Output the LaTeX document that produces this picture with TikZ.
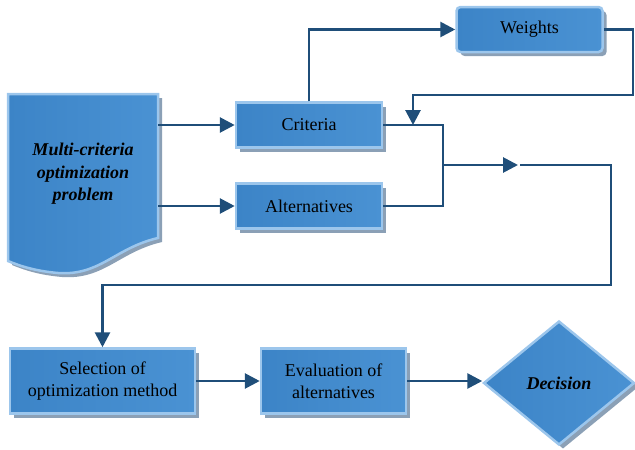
\documentclass[tikz,border=0pt]{standalone}
\usepackage{fontspec}
\setmainfont{Liberation Serif}
\usetikzlibrary{arrows.meta,shapes.geometric,shadows}
\definecolor{lineblue}{HTML}{1F4E79}
\definecolor{boxA}{HTML}{3C84C7}
\definecolor{boxB}{HTML}{62A6E1}
\definecolor{boxC}{HTML}{4A92D3}
\definecolor{edgeblue}{HTML}{9CC6EC}
\definecolor{shadowc}{HTML}{8BA0B6}
\begin{document}
\begin{tikzpicture}[x=1pt,y=-1pt,
  every node/.style={font=\fontsize{18}{22}\selectfont},
  fillgrad/.style={left color=boxA, middle color=boxB, right color=boxC},
  box/.style={rectangle, draw=edgeblue, line width=2.5pt, fillgrad,
    align=center, inner sep=0pt,
    drop shadow={shadow xshift=4pt, shadow yshift=-4pt, fill=shadowc, opacity=1}},
  conn/.style={draw=lineblue, line width=2.8pt},
  arr/.style={conn, -{Triangle[length=15pt,width=15pt]}}]
\useasboundingbox (0,0) rectangle (635,450);

% document shape
\begin{scope}[shift={(4,4)}]
\fill[shadowc] (8,94) -- (158,94) -- (158,238) .. controls (115,248) and (100,276) .. (58,273) .. controls (35,271) and (20,266) .. (8,261) -- cycle;
\end{scope}
\shade[fillgrad] (8,94) -- (158,94) -- (158,238) .. controls (115,248) and (100,276) .. (58,273) .. controls (35,271) and (20,266) .. (8,261) -- cycle;
\draw[edgeblue, line width=2.5pt] (8,94) -- (158,94) -- (158,238) .. controls (115,248) and (100,276) .. (58,273) .. controls (35,271) and (20,266) .. (8,261) -- cycle;
\node[minimum width=150pt, minimum height=160pt, inner sep=0pt, align=center,
  font=\fontsize{18}{22.5}\selectfont\bfseries\itshape] (doc) at (83,174)
  {Multi-criteria\\optimization\\problem};

\node[box, minimum width=146pt, minimum height=45pt] (crit) at (309,125) {Criteria};
\node[box, minimum width=146pt, minimum height=45pt] (alt) at (309,206) {Alternatives};
\node[box, rounded corners=4pt, minimum width=146pt, minimum height=45pt] (wts) at (529.5,29.5) {Weights};
\node[box, minimum width=185pt, minimum height=65pt] (sel) at (102.5,381) {Selection of\\optimization method};
\node[box, minimum width=145pt, minimum height=65pt] (eval) at (333.5,381) {Evaluation of\\alternatives};
\node[diamond, draw=edgeblue, line width=2.5pt, fillgrad, inner sep=0pt,
  minimum width=151pt, minimum height=124pt, aspect=1.22,
  drop shadow={shadow xshift=4pt, shadow yshift=-4pt, fill=shadowc, opacity=1},
  font=\fontsize{18}{22}\selectfont\bfseries\itshape] (dec) at (559,383) {Decision};

\coordinate (wr) at (633,95);
\coordinate (wl) at (413,95);
\coordinate (wd) at (413,125);
\coordinate (jm) at (443,165);
\coordinate (jt) at (518,165);
\coordinate (js) at (520,165);
\coordinate (k1) at (611,285);

\draw[arr] (doc.east |- crit.west) -- (crit.west);
\draw[arr] (doc.east |- alt.west) -- (alt.west);
\draw[arr] (crit.north) |- (wts.west);
\draw[arr] (wts.east) -| (wr) -- (wl) -- (wd);
\draw[conn] (crit.east) -| (jm) |- (alt.east);
\draw[arr] (jm) -- (jt);
\draw[arr] (js) -| (k1) -| (sel.north);
\draw[arr] (sel.east) -- (eval.west);
\draw[arr] (eval.east) -- (eval.east -| dec.west);
\end{tikzpicture}
\end{document}
